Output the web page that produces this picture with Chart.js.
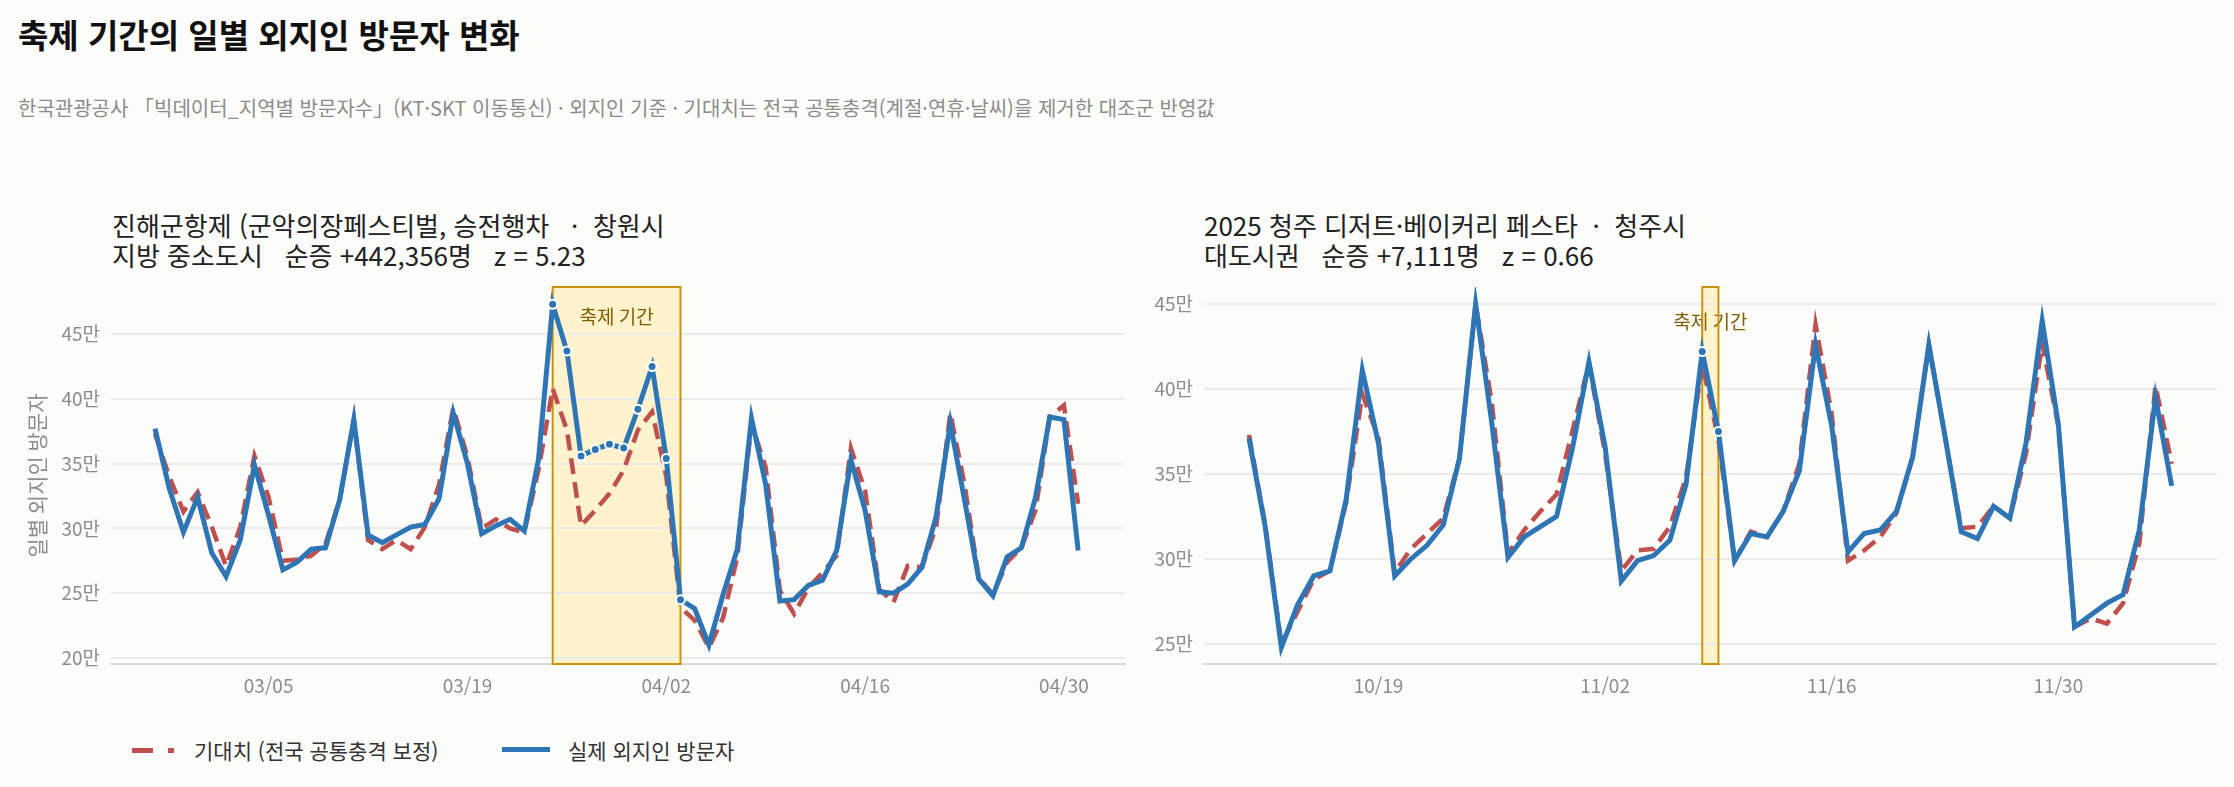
<!DOCTYPE html>
<html lang="ko">
<head>
  <meta charset="UTF-8" />
  <title>축제 기간의 일별 외지인 방문자 변화</title>
  <script src="https://cdn.jsdelivr.net/npm/chart.js"></script>
  <style>
    html, body {
      margin: 0;
      padding: 0;
      background: #fcfcfb;
      font-family: "Noto Sans CJK KR", "Noto Sans", sans-serif;
    }
    #page {
      position: relative;
      width: 2234px;
      height: 787px;
      overflow: hidden;
    }
    .abs { position: absolute; white-space: pre; }
    #title { left: 18px; top: 14px; font-size: 33px; line-height: 40px; font-weight: 700; color: #111; }
    #subtitle { left: 18px; top: 95px; font-size: 20px; line-height: 26px; color: #8c8c8c; }
    .panel-title { top: 210px; font-size: 26px; line-height: 30px; color: #222; }
    canvas { position: absolute; top: 261px; }
    .legend-text { top: 736px; font-size: 21px; line-height: 28px; color: #333; }
    .swatch { position: absolute; }
  </style>
</head>
<body>
<div id="page">
  <div id="title" class="abs">축제 기간의 일별 외지인 방문자 변화</div>
  <div id="subtitle" class="abs">한국관광공사 「빅데이터_지역별 방문자수」(KT·SKT 이동통신) · 외지인 기준 · 기대치는 전국 공통충격(계절·연휴·날씨)을 제거한 대조군 반영값</div>

  <div class="abs panel-title" style="left:112px">진해군항제 (군악의장페스티벌, 승전행차   ·  창원시
지방 중소도시   순증 +442,356명   z = 5.23</div>
  <div class="abs panel-title" style="left:1204px">2025 청주 디저트·베이커리 페스타  ·  청주시
대도시권   순증 +7,111명   z = 0.66</div>

  <canvas id="leftChart" width="1140" height="450" style="left:0px"></canvas>
  <canvas id="rightChart" width="1094" height="450" style="left:1140px"></canvas>

  <div class="swatch" style="left:132px; top:748px; width:42px; height:5px;
       background: linear-gradient(to right, #c0504d 0 21px, transparent 21px 36px, #c0504d 36px 42px);"></div>
  <div class="abs legend-text" style="left:194px">기대치 (전국 공통충격 보정)</div>
  <div class="swatch" style="left:502px; top:747px; width:48px; height:5px; background:#2e75b6;"></div>
  <div class="abs legend-text" style="left:568px">실제 외지인 방문자</div>
</div>

<script>
  // values in 만 명 (10,000 visitors)
  const leftStart = '2025-02-25';
  const leftActual = [37.7, 33.1, 29.7, 32.4, 28.1, 26.3, 29.1, 34.9, 31.0, 26.8,
                      27.4, 28.4, 28.5, 32.2, 38.4, 29.5, 28.9, 29.5, 30.1, 30.3,
                      32.3, 38.9, 35.0, 29.6, 30.2, 30.7, 29.8, 35.3, 47.3, 43.7,
                      35.6, 36.1, 36.5, 36.2, 39.2, 42.5, 35.4, 24.5, 23.8, 21.0,
                      24.9, 28.4, 38.5, 33.4, 24.4, 24.5, 25.6, 26.0, 28.3, 35.3,
                      31.4, 25.1, 25.0, 25.7, 27.0, 30.9, 38.1, 32.2, 26.1, 24.8,
                      27.8, 28.5, 32.4, 38.6, 38.4, 28.3];
  const leftExpected = [37.3, 34.0, 31.3, 32.8, 30.1, 27.1, 30.1, 35.6, 32.4, 27.5,
                        27.6, 27.9, 28.8, 32.2, 38.4, 29.1, 28.4, 29.1, 28.4, 30.1,
                        33.4, 39.3, 35.5, 30.0, 30.7, 30.0, 29.7, 34.5, 40.8, 37.6,
                        30.2, 31.4, 32.7, 34.5, 37.6, 39.0, 34.0, 23.9, 22.9, 20.8,
                        23.1, 27.8, 38.1, 34.7, 25.2, 23.4, 25.4, 26.6, 27.9, 36.2,
                        32.9, 25.3, 24.3, 27.1, 27.0, 30.1, 38.9, 33.4, 26.2, 24.9,
                        27.4, 28.5, 31.4, 38.6, 39.5, 31.9];
  const leftFest = ['03/25', '04/03'];
  const leftTickLabels = ['03/05', '03/19', '04/02', '04/16', '04/30'];
  const leftYTicks = [20, 25, 30, 35, 40, 45];

  const rightStart = '2025-10-11';
  const rightActual = [37.1, 31.9, 24.8, 27.3, 29.0, 29.3, 33.5, 41.1, 36.8, 29.0,
                       30.0, 30.8, 32.0, 35.9, 45.0, 38.0, 30.1, 31.3, 31.9, 32.5,
                       36.6, 41.6, 36.6, 28.7, 29.9, 30.2, 31.1, 34.4, 42.2, 37.5,
                       29.9, 31.5, 31.3, 32.8, 35.2, 42.6, 37.8, 30.4, 31.5, 31.7,
                       32.8, 36.0, 42.6, 37.2, 31.6, 31.2, 33.1, 32.4, 36.8, 44.0,
                       37.9, 26.0, 26.7, 27.4, 27.9, 31.7, 39.5, 34.3];
  const rightExpected = [37.3, 32.0, 25.0, 26.9, 28.8, 29.3, 33.3, 39.7, 37.1, 29.2,
                         30.6, 31.5, 32.4, 35.9, 45.0, 39.2, 30.3, 31.7, 32.8, 33.8,
                         37.6, 41.5, 36.2, 29.3, 30.5, 30.6, 31.9, 34.8, 41.5, 37.0,
                         29.9, 31.6, 31.3, 32.8, 35.6, 43.8, 38.5, 29.9, 30.5, 31.3,
                         32.7, 36.0, 42.6, 37.2, 31.8, 31.9, 33.1, 32.4, 36.2, 42.7,
                         37.8, 26.0, 26.5, 26.2, 27.4, 30.9, 40.2, 35.6];
  const rightFest = ['11/08', '11/09'];
  const rightTickLabels = ['10/19', '11/02', '11/16', '11/30'];
  const rightYTicks = [25, 30, 35, 40, 45];

  const BLUE = '#2e75b6';
  const RED = '#c0504d';
  const FONT = '"Noto Sans CJK KR", "Noto Sans", sans-serif';

  function makeDates(start, n) {
    const out = [];
    const d = new Date(start + 'T00:00:00Z');
    for (let i = 0; i < n; i++) {
      const mm = String(d.getUTCMonth() + 1).padStart(2, '0');
      const dd = String(d.getUTCDate()).padStart(2, '0');
      out.push(mm + '/' + dd);
      d.setUTCDate(d.getUTCDate() + 1);
    }
    return out;
  }

  // festival band + label
  const festBand = {
    id: 'festBand',
    beforeDraw(chart, args, opts) {
      const {ctx, chartArea, scales} = chart;
      const x0 = scales.x.getPixelForValue(opts.from);
      const x1 = scales.x.getPixelForValue(opts.to);
      ctx.save();
      ctx.fillStyle = '#fff2cc';
      ctx.fillRect(x0, chartArea.top, x1 - x0, chartArea.bottom - chartArea.top);
      ctx.restore();
    },
    beforeDatasetsDraw(chart, args, opts) {
      const {ctx, chartArea, scales} = chart;
      const x0 = scales.x.getPixelForValue(opts.from);
      const x1 = scales.x.getPixelForValue(opts.to);
      ctx.save();
      ctx.font = '19px ' + FONT;
      ctx.fillStyle = '#7f6000';
      ctx.textAlign = 'center';
      ctx.textBaseline = 'middle';
      ctx.fillText('축제 기간', (x0 + x1) / 2, chartArea.top + opts.labelOffset);
      ctx.strokeStyle = '#c9940a';
      ctx.lineWidth = 2;
      ctx.strokeRect(x0, chartArea.top, x1 - x0, chartArea.bottom - chartArea.top);
      ctx.restore();
    }
  };

  function buildChart(canvasId, cfg) {
    const dates = makeDates(cfg.start, cfg.actual.length);
    const from = dates.indexOf(cfg.fest[0]);
    const to = dates.indexOf(cfg.fest[1]);
    const tickIdx = cfg.tickLabels.map(l => dates.indexOf(l));
    const inFest = c => c.dataIndex >= from && c.dataIndex <= to;

    return new Chart(document.getElementById(canvasId), {
      type: 'line',
      data: {
        datasets: [{
          label: '실제 외지인 방문자',
          data: cfg.actual.map((v, i) => ({x: i, y: v})),
          borderColor: BLUE,
          borderWidth: 5,
          tension: 0,
          order: 1,
          pointRadius: c => inFest(c) ? 4.5 : 0,
          pointBackgroundColor: BLUE,
          pointBorderColor: '#ffffff',
          pointBorderWidth: 2
        }, {
          label: '기대치 (전국 공통충격 보정)',
          data: cfg.expected.map((v, i) => ({x: i, y: v})),
          borderColor: RED,
          borderWidth: 4.5,
          borderDash: [16, 8],
          tension: 0,
          order: 2,
          pointRadius: 0
        }]
      },
      options: {
        responsive: false,
        animation: false,
        // top 26 keeps the plot top at page y=287 (canvas sits at 261)
        layout: {padding: {top: 26, right: cfg.padRight, left: 0, bottom: 0}},
        plugins: {
          legend: {display: false},
          tooltip: {enabled: false},
          festBand: {from: from, to: to, labelOffset: cfg.labelOffset}
        },
        scales: {
          x: {
            type: 'linear',
            min: cfg.xMin,
            max: cfg.xMax,
            grid: {display: false, drawTicks: false},
            border: {display: true, color: '#d9d9d9', width: 2},
            afterBuildTicks: s => { s.ticks = tickIdx.map(v => ({value: v})); },
            afterFit: s => { s.height = 47; },
            ticks: {
              padding: 10,
              color: '#8c8c8c',
              font: {family: FONT, size: 19},
              maxRotation: 0,
              callback: v => dates[v]
            }
          },
          y: {
            min: cfg.yMin,
            max: cfg.yMax,
            grid: {color: '#ebebeb', lineWidth: 2, drawTicks: false},
            border: {display: false},
            afterBuildTicks: s => { s.ticks = cfg.yTicks.map(v => ({value: v})); },
            afterFit: s => { s.width = cfg.yWidth; },
            title: {
              display: cfg.yTitle !== '',
              text: cfg.yTitle,
              color: '#8c8c8c',
              font: {family: FONT, size: 21},
              padding: {top: 24, bottom: 0}
            },
            ticks: {
              padding: 11,
              color: '#8c8c8c',
              font: {family: FONT, size: 19},
              callback: v => v + '만'
            }
          }
        }
      },
      plugins: [festBand]
    });
  }

  buildChart('leftChart', {
    start: leftStart, actual: leftActual, expected: leftExpected,
    fest: leftFest, tickLabels: leftTickLabels, yTicks: leftYTicks,
    xMin: -3.1, xMax: 68.3, yMin: 19.53, yMax: 48.64,
    yWidth: 111, padRight: 15, labelOffset: 30, yTitle: '일별 외지인 방문자'
  });

  buildChart('rightChart', {
    start: rightStart, actual: rightActual, expected: rightExpected,
    fest: rightFest, tickLabels: rightTickLabels, yTicks: rightYTicks,
    xMin: -2.78, xMax: 59.8, yMin: 23.82, yMax: 46.0,
    yWidth: 64, padRight: 17, labelOffset: 35, yTitle: ''
  });
</script>
</body>
</html>
